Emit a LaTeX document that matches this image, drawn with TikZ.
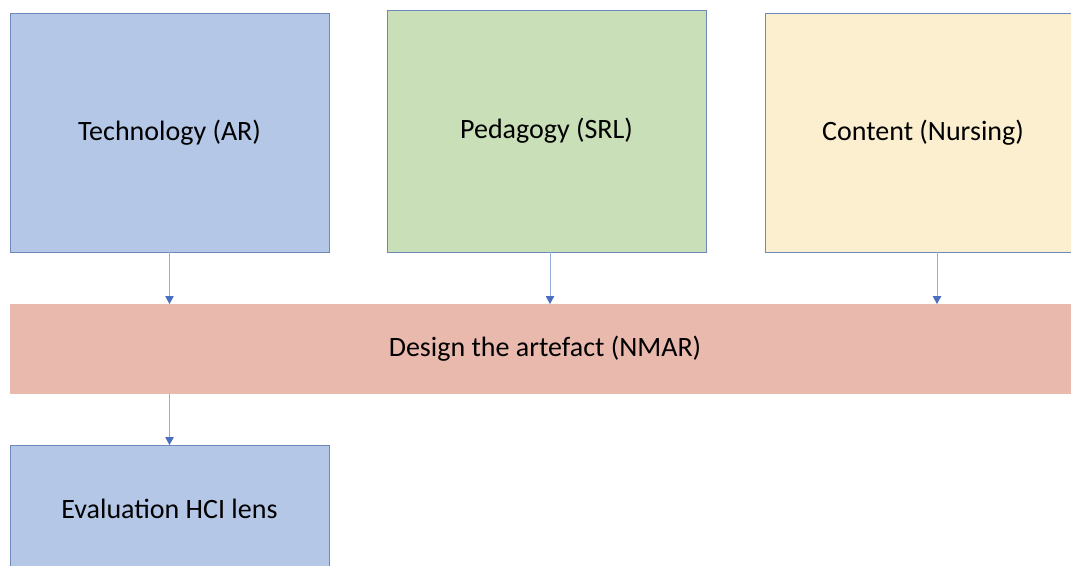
\documentclass[tikz,border=0pt]{standalone}
\usepackage{fontspec}
\setmainfont{Carlito}
\usetikzlibrary{arrows.meta}
\definecolor{techblue}{HTML}{B4C7E7}
\definecolor{pedgreen}{HTML}{C9DFB8}
\definecolor{contyellow}{HTML}{FCEFD0}
\definecolor{bandred}{HTML}{E9B9AE}
\definecolor{edgeblue}{HTML}{6E88BC}
\definecolor{linkblue}{HTML}{97AEDB}
\definecolor{headblue}{HTML}{4A6FC0}
% labels sit a touch below the geometric centre
\newcommand\boxlabel[1]{\raisebox{-2pt}{#1}}
\tikzset{
  box/.style={draw=edgeblue, line width=0.9pt, inner sep=0pt, outer sep=0pt,
    font=\fontsize{28}{32}\selectfont, text=black},
  band/.style={inner sep=0pt, outer sep=0pt, fill=bandred,
    font=\fontsize{28}{32}\selectfont, text=black},
  link/.style={draw=linkblue, line width=1pt,
    -{Triangle[width=8.5pt,length=8pt,color=headblue,fill=headblue]}}
}
\begin{document}
\begin{tikzpicture}[x=1pt,y=-1pt]
\useasboundingbox[clip] (0,0) rectangle (1071,565);
\fill[white] (0,0) rectangle (1071,565);
\node[box, fill=techblue, minimum width=319pt, minimum height=239pt] (tech) at (169.5,132.5) {\boxlabel{Technology (AR)}};
\node[box, fill=pedgreen, minimum width=319pt, minimum height=242pt] (ped) at (546.5,131) {\boxlabel{Pedagogy (SRL)}};
\node[box, fill=contyellow, minimum width=316pt, minimum height=239pt] (cont) at (923,132.5) {\boxlabel{Content (Nursing)}};
\node[band, minimum width=1070pt, minimum height=90pt] (design) at (545,349) {\boxlabel{Design the artefact (NMAR)}};
\node[box, fill=techblue, minimum width=319pt, minimum height=128pt] (eval) at (169.5,509) {\boxlabel{Evaluation HCI lens}};
\draw[link] (tech.south) -- (tech.south |- design.north);
\draw[link] ([xshift=3.5pt]ped.south) -- ([xshift=3.5pt]ped.south |- design.north);
\draw[link] ([xshift=14pt]cont.south) -- ([xshift=14pt]cont.south |- design.north);
\draw[link] (tech.south |- design.south) -- (eval.north);
\end{tikzpicture}
\end{document}
